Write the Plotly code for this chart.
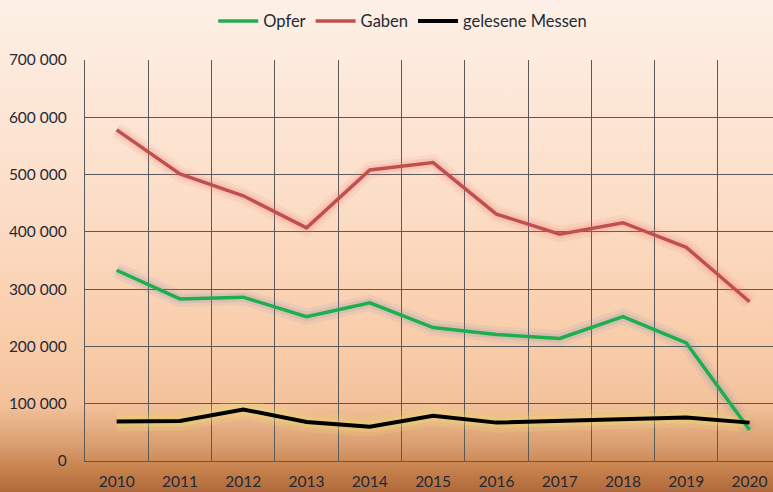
import base64
import plotly.graph_objects as go

years = ["2010", "2011", "2012", "2013", "2014", "2015", "2016", "2017", "2018", "2019", "2020"]
opfer = [333000, 283000, 286000, 252000, 276000, 233000, 221000, 214000, 252000, 206000, 54000]
gaben = [578000, 501000, 463000, 407000, 508000, 521000, 431000, 396000, 416000, 373000, 278000]
messen = [69000, 70000, 90000, 68000, 60000, 79000, 67000, 70000, 74000, 76000, 67000]
y_ticks = [0, 100000, 200000, 300000, 400000, 500000, 600000, 700000]

W, H = 773, 492
ML, MR, MT, MB = 85, 0, 60, 31

x = list(range(len(years)))
fig = go.Figure()

def glow(vals, color_rgba, widths):
    for w, c in zip(widths, color_rgba):
        fig.add_trace(go.Scatter(x=x, y=vals, mode="lines", showlegend=False, hoverinfo="skip",
                                 line=dict(color=c, width=w, shape="linear")))

glow(gaben, ["rgba(235,120,120,0.10)", "rgba(235,120,120,0.16)"], [16, 9])
glow(opfer, ["rgba(120,140,185,0.10)", "rgba(120,140,185,0.16)"], [16, 9])
glow(messen, ["rgba(240,225,110,0.18)", "rgba(240,225,110,0.25)"], [20, 11])

fig.add_trace(go.Scatter(x=x, y=opfer, name="Opfer", mode="lines", line=dict(color="#1fae4c", width=3.5)))
fig.add_trace(go.Scatter(x=x, y=gaben, name="Gaben", mode="lines", line=dict(color="#c0504d", width=3.5)))
fig.add_trace(go.Scatter(x=x, y=messen, name="gelesene Messen", mode="lines", line=dict(color="#000000", width=4)))

svg = f'''<svg xmlns="http://www.w3.org/2000/svg" width="{W}" height="{H}" preserveAspectRatio="none" viewBox="0 0 {W} {H}">
<defs><linearGradient id="g" x1="0" y1="0" x2="0" y2="1">
<stop offset="0" stop-color="#fdf0e6"/>
<stop offset="0.4" stop-color="#fcdec8"/>
<stop offset="0.7" stop-color="#f9cca9"/>
<stop offset="0.82" stop-color="#f3c29c"/>
<stop offset="0.9" stop-color="#dca073"/>
<stop offset="0.95" stop-color="#c8844f"/>
<stop offset="1" stop-color="#b0683a"/>
</linearGradient></defs>
<rect x="0" y="0" width="{W}" height="{H}" fill="url(#g)"/></svg>'''
src = "data:image/svg+xml;base64," + base64.b64encode(svg.encode()).decode()

pw, ph = W - ML - MR, H - MT - MB
fig.add_layout_image(dict(source=src, xref="paper", yref="paper", x=-ML / pw, y=1 + MT / ph,
                          sizex=W / pw, sizey=H / ph, sizing="stretch", xanchor="left", yanchor="top",
                          layer="below"))

font = dict(family="Lato, 'Open Sans', sans-serif", size=15.5, color="#1f2937")
lfont = dict(family="Lato, 'Open Sans', sans-serif", size=16.5, color="#1f2937")
grid = "#5a5a5a"
fig.update_layout(
    width=W, height=H,
    margin=dict(l=ML, r=MR, t=MT, b=MB),
    paper_bgcolor="#fdf0e6", plot_bgcolor="rgba(0,0,0,0)",
    separators=", ",
    font=font,
    showlegend=True,
    legend=dict(orientation="h", xref="container", yref="container", x=0.521, y=0.957,
                xanchor="center", yanchor="middle", font=lfont, bgcolor="rgba(0,0,0,0)",
                itemwidth=40, tracegroupgap=0),
    xaxis=dict(range=[-0.5, 10.37], tickmode="array", tickvals=x, ticktext=years, showgrid=False,
               ticks="", zeroline=False, showline=True, linecolor=grid, linewidth=1.2,
               tickfont=font, ticklabelstandoff=6,
               minor=dict(tickmode="array", tickvals=[i - 0.5 for i in range(len(years) + 1)],
                          showgrid=True, gridcolor=grid, gridwidth=1.2, ticks="")),
    yaxis=dict(range=[0, 700000], tickmode="array", tickvals=y_ticks, tickformat=",d", showgrid=True,
               gridcolor=grid, gridwidth=1.2, zeroline=False, showline=True, linecolor=grid,
               linewidth=1.2, ticks="", tickfont=font, ticklabelstandoff=14),
)
fig.write_html("out.html", config={"displayModeBar": False},
               post_script="document.body.style.margin='0';document.body.style.padding='0';")
